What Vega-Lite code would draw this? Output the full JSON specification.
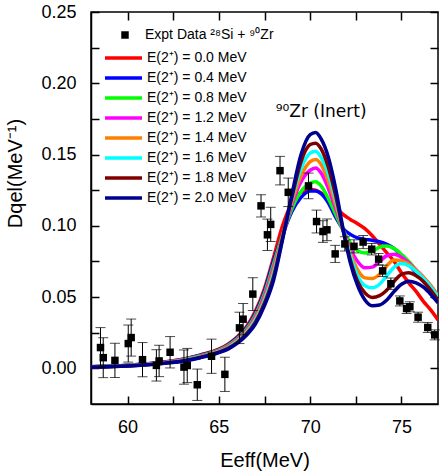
{
"$schema": "https://vega.github.io/schema/vega-lite/v6.json",
"width": 347, "height": 392,
"autosize": {"type": "none"},
"padding": {"left": 91, "top": 12, "right": 2, "bottom": 71},
"background": "white",
"config": {
  "font": "Liberation Sans",
  "view": {"stroke": "black", "strokeWidth": 1.5},
  "axis": {"grid": false, "domainColor": "black", "domainWidth": 1.5, "tickColor": "black", "tickWidth": 1.5,
           "labelColor": "black", "titleColor": "black", "labelFontSize": 18, "titleFontSize": 20, "titleFontWeight": "normal", "labelFlush": false}
},
"resolve": {"axis": {"x": "independent", "y": "independent"}},
"datasets": {
"expt": [
{"x":58.52,"y":0.0146,"err":0.014},{"x":58.67,"y":0.0075,"err":0.014},{"x":59.31,"y":0.0056,"err":0.012},{"x":60.04,"y":0.0174,"err":0.013},
{"x":60.2,"y":0.0216,"err":0.013},{"x":60.82,"y":0.0061,"err":0.012},{"x":61.58,"y":0.0021,"err":0.011},{"x":61.73,"y":0.0052,"err":0.011},
{"x":62.33,"y":0.0113,"err":0.011},{"x":63.09,"y":0.0009,"err":0.012},{"x":63.27,"y":0.002,"err":0.012},{"x":63.82,"y":-0.0115,"err":0.011},
{"x":64.6,"y":0.0085,"err":0.012},{"x":65.33,"y":-0.0042,"err":0.012},{"x":66.13,"y":0.0284,"err":0.011},{"x":66.33,"y":0.0345,"err":0.011},
{"x":66.86,"y":0.0521,"err":0.0115},{"x":67.31,"y":0.114,"err":0.0078},{"x":67.66,"y":0.0937,"err":0.011},{"x":67.84,"y":0.101,"err":0.012},
{"x":68.35,"y":0.1387,"err":0.01},{"x":68.8,"y":0.1235,"err":0.01},{"x":69.91,"y":0.128,"err":0.009},{"x":70.35,"y":0.103,"err":0.008},
{"x":70.7,"y":0.096,"err":0.0076},{"x":70.92,"y":0.0972,"err":0.0076},{"x":71.37,"y":0.0803,"err":0.006},{"x":71.9,"y":0.0873,"err":0.005},
{"x":72.4,"y":0.0856,"err":0.0046},{"x":72.9,"y":0.0886,"err":0.0046},{"x":73.37,"y":0.0836,"err":0.004},{"x":73.75,"y":0.0766,"err":0.004},
{"x":73.97,"y":0.0684,"err":0.004},{"x":74.42,"y":0.0594,"err":0.004},{"x":74.91,"y":0.0473,"err":0.0035},{"x":75.28,"y":0.042,"err":0.0035},
{"x":75.46,"y":0.0432,"err":0.0035},{"x":75.91,"y":0.0359,"err":0.0035},{"x":76.44,"y":0.0287,"err":0.0035},{"x":76.82,"y":0.0235,"err":0.0035}
],
"note": [{"x":70.6,"y":0.1765,"t":"⁹⁰Zr (Inert)"}],
"curves": [
{"s":"E(2⁺) = 0.0 MeV","x":58,"y":0.0012},{"s":"E(2⁺) = 0.0 MeV","x":60,"y":0.0022},{"s":"E(2⁺) = 0.0 MeV","x":62,"y":0.0045},{"s":"E(2⁺) = 0.0 MeV","x":63,"y":0.0065},{"s":"E(2⁺) = 0.0 MeV","x":64,"y":0.0095},{"s":"E(2⁺) = 0.0 MeV","x":65,"y":0.0135},{"s":"E(2⁺) = 0.0 MeV","x":65.5,"y":0.017},{"s":"E(2⁺) = 0.0 MeV","x":66,"y":0.022},{"s":"E(2⁺) = 0.0 MeV","x":66.5,"y":0.029},{"s":"E(2⁺) = 0.0 MeV","x":67,"y":0.04},{"s":"E(2⁺) = 0.0 MeV","x":67.5,"y":0.056},{"s":"E(2⁺) = 0.0 MeV","x":68,"y":0.078},{"s":"E(2⁺) = 0.0 MeV","x":68.5,"y":0.1005},{"s":"E(2⁺) = 0.0 MeV","x":69,"y":0.116},{"s":"E(2⁺) = 0.0 MeV","x":69.5,"y":0.1235},{"s":"E(2⁺) = 0.0 MeV","x":70,"y":0.1255},{"s":"E(2⁺) = 0.0 MeV","x":70.3,"y":0.125},{"s":"E(2⁺) = 0.0 MeV","x":70.6,"y":0.123},{"s":"E(2⁺) = 0.0 MeV","x":71,"y":0.118},{"s":"E(2⁺) = 0.0 MeV","x":71.4,"y":0.113},{"s":"E(2⁺) = 0.0 MeV","x":71.8,"y":0.108},{"s":"E(2⁺) = 0.0 MeV","x":72.2,"y":0.1045},{"s":"E(2⁺) = 0.0 MeV","x":72.6,"y":0.1015},{"s":"E(2⁺) = 0.0 MeV","x":73,"y":0.098},{"s":"E(2⁺) = 0.0 MeV","x":73.4,"y":0.093},{"s":"E(2⁺) = 0.0 MeV","x":73.8,"y":0.087},{"s":"E(2⁺) = 0.0 MeV","x":74.2,"y":0.081},{"s":"E(2⁺) = 0.0 MeV","x":74.6,"y":0.075},{"s":"E(2⁺) = 0.0 MeV","x":75,"y":0.067},{"s":"E(2⁺) = 0.0 MeV","x":75.4,"y":0.06},{"s":"E(2⁺) = 0.0 MeV","x":75.8,"y":0.054},{"s":"E(2⁺) = 0.0 MeV","x":76.2,"y":0.047},{"s":"E(2⁺) = 0.0 MeV","x":76.6,"y":0.041},{"s":"E(2⁺) = 0.0 MeV","x":77,"y":0.034},
{"s":"E(2⁺) = 0.4 MeV","x":58,"y":0.0011},{"s":"E(2⁺) = 0.4 MeV","x":60,"y":0.0021},{"s":"E(2⁺) = 0.4 MeV","x":62,"y":0.0044},{"s":"E(2⁺) = 0.4 MeV","x":63,"y":0.0063},{"s":"E(2⁺) = 0.4 MeV","x":64,"y":0.0092},{"s":"E(2⁺) = 0.4 MeV","x":65,"y":0.0131},{"s":"E(2⁺) = 0.4 MeV","x":65.5,"y":0.0165},{"s":"E(2⁺) = 0.4 MeV","x":66,"y":0.0214},{"s":"E(2⁺) = 0.4 MeV","x":66.5,"y":0.0281},{"s":"E(2⁺) = 0.4 MeV","x":67,"y":0.0387},{"s":"E(2⁺) = 0.4 MeV","x":67.5,"y":0.0543},{"s":"E(2⁺) = 0.4 MeV","x":68,"y":0.0757},{"s":"E(2⁺) = 0.4 MeV","x":68.5,"y":0.094},{"s":"E(2⁺) = 0.4 MeV","x":69,"y":0.11},{"s":"E(2⁺) = 0.4 MeV","x":69.5,"y":0.12},{"s":"E(2⁺) = 0.4 MeV","x":70,"y":0.1245},{"s":"E(2⁺) = 0.4 MeV","x":70.3,"y":0.1245},{"s":"E(2⁺) = 0.4 MeV","x":70.6,"y":0.1225},{"s":"E(2⁺) = 0.4 MeV","x":71,"y":0.116},{"s":"E(2⁺) = 0.4 MeV","x":71.4,"y":0.106},{"s":"E(2⁺) = 0.4 MeV","x":71.8,"y":0.098},{"s":"E(2⁺) = 0.4 MeV","x":72.2,"y":0.094},{"s":"E(2⁺) = 0.4 MeV","x":72.6,"y":0.0915},{"s":"E(2⁺) = 0.4 MeV","x":73,"y":0.0905},{"s":"E(2⁺) = 0.4 MeV","x":73.4,"y":0.0898},{"s":"E(2⁺) = 0.4 MeV","x":73.8,"y":0.0888},{"s":"E(2⁺) = 0.4 MeV","x":74.2,"y":0.087},{"s":"E(2⁺) = 0.4 MeV","x":74.6,"y":0.084},{"s":"E(2⁺) = 0.4 MeV","x":75,"y":0.079},{"s":"E(2⁺) = 0.4 MeV","x":75.4,"y":0.073},{"s":"E(2⁺) = 0.4 MeV","x":75.8,"y":0.067},{"s":"E(2⁺) = 0.4 MeV","x":76.2,"y":0.061},{"s":"E(2⁺) = 0.4 MeV","x":76.6,"y":0.055},{"s":"E(2⁺) = 0.4 MeV","x":77,"y":0.049},
{"s":"E(2⁺) = 0.8 MeV","x":58,"y":0.0011},{"s":"E(2⁺) = 0.8 MeV","x":60,"y":0.002},{"s":"E(2⁺) = 0.8 MeV","x":62,"y":0.0042},{"s":"E(2⁺) = 0.8 MeV","x":63,"y":0.0061},{"s":"E(2⁺) = 0.8 MeV","x":64,"y":0.0089},{"s":"E(2⁺) = 0.8 MeV","x":65,"y":0.0128},{"s":"E(2⁺) = 0.8 MeV","x":65.5,"y":0.016},{"s":"E(2⁺) = 0.8 MeV","x":66,"y":0.0207},{"s":"E(2⁺) = 0.8 MeV","x":66.5,"y":0.0273},{"s":"E(2⁺) = 0.8 MeV","x":67,"y":0.0374},{"s":"E(2⁺) = 0.8 MeV","x":67.5,"y":0.0526},{"s":"E(2⁺) = 0.8 MeV","x":68,"y":0.0734},{"s":"E(2⁺) = 0.8 MeV","x":68.5,"y":0.094},{"s":"E(2⁺) = 0.8 MeV","x":69,"y":0.112},{"s":"E(2⁺) = 0.8 MeV","x":69.5,"y":0.124},{"s":"E(2⁺) = 0.8 MeV","x":70,"y":0.13},{"s":"E(2⁺) = 0.8 MeV","x":70.3,"y":0.131},{"s":"E(2⁺) = 0.8 MeV","x":70.6,"y":0.128},{"s":"E(2⁺) = 0.8 MeV","x":71,"y":0.119},{"s":"E(2⁺) = 0.8 MeV","x":71.4,"y":0.108},{"s":"E(2⁺) = 0.8 MeV","x":71.8,"y":0.097},{"s":"E(2⁺) = 0.8 MeV","x":72.2,"y":0.088},{"s":"E(2⁺) = 0.8 MeV","x":72.6,"y":0.0825},{"s":"E(2⁺) = 0.8 MeV","x":73,"y":0.081},{"s":"E(2⁺) = 0.8 MeV","x":73.4,"y":0.082},{"s":"E(2⁺) = 0.8 MeV","x":73.8,"y":0.085},{"s":"E(2⁺) = 0.8 MeV","x":74.2,"y":0.0858},{"s":"E(2⁺) = 0.8 MeV","x":74.6,"y":0.084},{"s":"E(2⁺) = 0.8 MeV","x":75,"y":0.08},{"s":"E(2⁺) = 0.8 MeV","x":75.4,"y":0.075},{"s":"E(2⁺) = 0.8 MeV","x":75.8,"y":0.069},{"s":"E(2⁺) = 0.8 MeV","x":76.2,"y":0.063},{"s":"E(2⁺) = 0.8 MeV","x":76.6,"y":0.057},{"s":"E(2⁺) = 0.8 MeV","x":77,"y":0.05},
{"s":"E(2⁺) = 1.2 MeV","x":58,"y":0.001},{"s":"E(2⁺) = 1.2 MeV","x":60,"y":0.0019},{"s":"E(2⁺) = 1.2 MeV","x":62,"y":0.0041},{"s":"E(2⁺) = 1.2 MeV","x":63,"y":0.0059},{"s":"E(2⁺) = 1.2 MeV","x":64,"y":0.0086},{"s":"E(2⁺) = 1.2 MeV","x":65,"y":0.0124},{"s":"E(2⁺) = 1.2 MeV","x":65.5,"y":0.0155},{"s":"E(2⁺) = 1.2 MeV","x":66,"y":0.0201},{"s":"E(2⁺) = 1.2 MeV","x":66.5,"y":0.0264},{"s":"E(2⁺) = 1.2 MeV","x":67,"y":0.0361},{"s":"E(2⁺) = 1.2 MeV","x":67.5,"y":0.0509},{"s":"E(2⁺) = 1.2 MeV","x":68,"y":0.0711},{"s":"E(2⁺) = 1.2 MeV","x":68.5,"y":0.093},{"s":"E(2⁺) = 1.2 MeV","x":69,"y":0.115},{"s":"E(2⁺) = 1.2 MeV","x":69.5,"y":0.131},{"s":"E(2⁺) = 1.2 MeV","x":70,"y":0.139},{"s":"E(2⁺) = 1.2 MeV","x":70.3,"y":0.1406},{"s":"E(2⁺) = 1.2 MeV","x":70.6,"y":0.137},{"s":"E(2⁺) = 1.2 MeV","x":71,"y":0.126},{"s":"E(2⁺) = 1.2 MeV","x":71.4,"y":0.112},{"s":"E(2⁺) = 1.2 MeV","x":71.8,"y":0.097},{"s":"E(2⁺) = 1.2 MeV","x":72.2,"y":0.084},{"s":"E(2⁺) = 1.2 MeV","x":72.6,"y":0.075},{"s":"E(2⁺) = 1.2 MeV","x":73,"y":0.0705},{"s":"E(2⁺) = 1.2 MeV","x":73.4,"y":0.071},{"s":"E(2⁺) = 1.2 MeV","x":73.8,"y":0.075},{"s":"E(2⁺) = 1.2 MeV","x":74.2,"y":0.079},{"s":"E(2⁺) = 1.2 MeV","x":74.6,"y":0.08},{"s":"E(2⁺) = 1.2 MeV","x":75,"y":0.078},{"s":"E(2⁺) = 1.2 MeV","x":75.4,"y":0.074},{"s":"E(2⁺) = 1.2 MeV","x":75.8,"y":0.069},{"s":"E(2⁺) = 1.2 MeV","x":76.2,"y":0.064},{"s":"E(2⁺) = 1.2 MeV","x":76.6,"y":0.058},{"s":"E(2⁺) = 1.2 MeV","x":77,"y":0.051},
{"s":"E(2⁺) = 1.4 MeV","x":58,"y":0.001},{"s":"E(2⁺) = 1.4 MeV","x":60,"y":0.0019},{"s":"E(2⁺) = 1.4 MeV","x":62,"y":0.0039},{"s":"E(2⁺) = 1.4 MeV","x":63,"y":0.0056},{"s":"E(2⁺) = 1.4 MeV","x":64,"y":0.0084},{"s":"E(2⁺) = 1.4 MeV","x":65,"y":0.0121},{"s":"E(2⁺) = 1.4 MeV","x":65.5,"y":0.015},{"s":"E(2⁺) = 1.4 MeV","x":66,"y":0.0194},{"s":"E(2⁺) = 1.4 MeV","x":66.5,"y":0.0256},{"s":"E(2⁺) = 1.4 MeV","x":67,"y":0.0349},{"s":"E(2⁺) = 1.4 MeV","x":67.5,"y":0.0491},{"s":"E(2⁺) = 1.4 MeV","x":68,"y":0.0689},{"s":"E(2⁺) = 1.4 MeV","x":68.5,"y":0.093},{"s":"E(2⁺) = 1.4 MeV","x":69,"y":0.117},{"s":"E(2⁺) = 1.4 MeV","x":69.5,"y":0.135},{"s":"E(2⁺) = 1.4 MeV","x":70,"y":0.145},{"s":"E(2⁺) = 1.4 MeV","x":70.3,"y":0.1465},{"s":"E(2⁺) = 1.4 MeV","x":70.6,"y":0.143},{"s":"E(2⁺) = 1.4 MeV","x":71,"y":0.131},{"s":"E(2⁺) = 1.4 MeV","x":71.4,"y":0.115},{"s":"E(2⁺) = 1.4 MeV","x":71.8,"y":0.097},{"s":"E(2⁺) = 1.4 MeV","x":72.2,"y":0.081},{"s":"E(2⁺) = 1.4 MeV","x":72.6,"y":0.069},{"s":"E(2⁺) = 1.4 MeV","x":73,"y":0.0635},{"s":"E(2⁺) = 1.4 MeV","x":73.4,"y":0.063},{"s":"E(2⁺) = 1.4 MeV","x":73.8,"y":0.066},{"s":"E(2⁺) = 1.4 MeV","x":74.2,"y":0.072},{"s":"E(2⁺) = 1.4 MeV","x":74.6,"y":0.076},{"s":"E(2⁺) = 1.4 MeV","x":75,"y":0.0755},{"s":"E(2⁺) = 1.4 MeV","x":75.4,"y":0.073},{"s":"E(2⁺) = 1.4 MeV","x":75.8,"y":0.069},{"s":"E(2⁺) = 1.4 MeV","x":76.2,"y":0.064},{"s":"E(2⁺) = 1.4 MeV","x":76.6,"y":0.058},{"s":"E(2⁺) = 1.4 MeV","x":77,"y":0.051},
{"s":"E(2⁺) = 1.6 MeV","x":58,"y":0.0009},{"s":"E(2⁺) = 1.6 MeV","x":60,"y":0.0018},{"s":"E(2⁺) = 1.6 MeV","x":62,"y":0.0038},{"s":"E(2⁺) = 1.6 MeV","x":63,"y":0.0054},{"s":"E(2⁺) = 1.6 MeV","x":64,"y":0.0081},{"s":"E(2⁺) = 1.6 MeV","x":65,"y":0.0117},{"s":"E(2⁺) = 1.6 MeV","x":65.5,"y":0.0145},{"s":"E(2⁺) = 1.6 MeV","x":66,"y":0.0188},{"s":"E(2⁺) = 1.6 MeV","x":66.5,"y":0.0247},{"s":"E(2⁺) = 1.6 MeV","x":67,"y":0.0336},{"s":"E(2⁺) = 1.6 MeV","x":67.5,"y":0.0474},{"s":"E(2⁺) = 1.6 MeV","x":68,"y":0.0666},{"s":"E(2⁺) = 1.6 MeV","x":68.5,"y":0.092},{"s":"E(2⁺) = 1.6 MeV","x":69,"y":0.119},{"s":"E(2⁺) = 1.6 MeV","x":69.5,"y":0.14},{"s":"E(2⁺) = 1.6 MeV","x":70,"y":0.151},{"s":"E(2⁺) = 1.6 MeV","x":70.3,"y":0.1523},{"s":"E(2⁺) = 1.6 MeV","x":70.6,"y":0.148},{"s":"E(2⁺) = 1.6 MeV","x":71,"y":0.136},{"s":"E(2⁺) = 1.6 MeV","x":71.4,"y":0.118},{"s":"E(2⁺) = 1.6 MeV","x":71.8,"y":0.097},{"s":"E(2⁺) = 1.6 MeV","x":72.2,"y":0.079},{"s":"E(2⁺) = 1.6 MeV","x":72.6,"y":0.065},{"s":"E(2⁺) = 1.6 MeV","x":73,"y":0.058},{"s":"E(2⁺) = 1.6 MeV","x":73.4,"y":0.0565},{"s":"E(2⁺) = 1.6 MeV","x":73.8,"y":0.059},{"s":"E(2⁺) = 1.6 MeV","x":74.2,"y":0.065},{"s":"E(2⁺) = 1.6 MeV","x":74.6,"y":0.071},{"s":"E(2⁺) = 1.6 MeV","x":75,"y":0.0735},{"s":"E(2⁺) = 1.6 MeV","x":75.4,"y":0.072},{"s":"E(2⁺) = 1.6 MeV","x":75.8,"y":0.068},{"s":"E(2⁺) = 1.6 MeV","x":76.2,"y":0.063},{"s":"E(2⁺) = 1.6 MeV","x":76.6,"y":0.057},{"s":"E(2⁺) = 1.6 MeV","x":77,"y":0.05},
{"s":"E(2⁺) = 1.8 MeV","x":58,"y":0.0009},{"s":"E(2⁺) = 1.8 MeV","x":60,"y":0.0017},{"s":"E(2⁺) = 1.8 MeV","x":62,"y":0.0036},{"s":"E(2⁺) = 1.8 MeV","x":63,"y":0.0052},{"s":"E(2⁺) = 1.8 MeV","x":64,"y":0.0078},{"s":"E(2⁺) = 1.8 MeV","x":65,"y":0.0114},{"s":"E(2⁺) = 1.8 MeV","x":65.5,"y":0.014},{"s":"E(2⁺) = 1.8 MeV","x":66,"y":0.0181},{"s":"E(2⁺) = 1.8 MeV","x":66.5,"y":0.0239},{"s":"E(2⁺) = 1.8 MeV","x":67,"y":0.0323},{"s":"E(2⁺) = 1.8 MeV","x":67.5,"y":0.0457},{"s":"E(2⁺) = 1.8 MeV","x":68,"y":0.0643},{"s":"E(2⁺) = 1.8 MeV","x":68.5,"y":0.092},{"s":"E(2⁺) = 1.8 MeV","x":69,"y":0.12},{"s":"E(2⁺) = 1.8 MeV","x":69.5,"y":0.145},{"s":"E(2⁺) = 1.8 MeV","x":70,"y":0.157},{"s":"E(2⁺) = 1.8 MeV","x":70.3,"y":0.158},{"s":"E(2⁺) = 1.8 MeV","x":70.6,"y":0.154},{"s":"E(2⁺) = 1.8 MeV","x":71,"y":0.141},{"s":"E(2⁺) = 1.8 MeV","x":71.4,"y":0.121},{"s":"E(2⁺) = 1.8 MeV","x":71.8,"y":0.097},{"s":"E(2⁺) = 1.8 MeV","x":72.2,"y":0.076},{"s":"E(2⁺) = 1.8 MeV","x":72.6,"y":0.061},{"s":"E(2⁺) = 1.8 MeV","x":73,"y":0.053},{"s":"E(2⁺) = 1.8 MeV","x":73.4,"y":0.0498},{"s":"E(2⁺) = 1.8 MeV","x":73.8,"y":0.051},{"s":"E(2⁺) = 1.8 MeV","x":74.2,"y":0.055},{"s":"E(2⁺) = 1.8 MeV","x":74.6,"y":0.061},{"s":"E(2⁺) = 1.8 MeV","x":75,"y":0.066},{"s":"E(2⁺) = 1.8 MeV","x":75.4,"y":0.067},{"s":"E(2⁺) = 1.8 MeV","x":75.8,"y":0.065},{"s":"E(2⁺) = 1.8 MeV","x":76.2,"y":0.061},{"s":"E(2⁺) = 1.8 MeV","x":76.6,"y":0.055},{"s":"E(2⁺) = 1.8 MeV","x":77,"y":0.048},
{"s":"E(2⁺) = 2.0 MeV","x":58,"y":0.0008},{"s":"E(2⁺) = 2.0 MeV","x":60,"y":0.0016},{"s":"E(2⁺) = 2.0 MeV","x":62,"y":0.0035},{"s":"E(2⁺) = 2.0 MeV","x":63,"y":0.005},{"s":"E(2⁺) = 2.0 MeV","x":64,"y":0.0075},{"s":"E(2⁺) = 2.0 MeV","x":65,"y":0.011},{"s":"E(2⁺) = 2.0 MeV","x":65.5,"y":0.0135},{"s":"E(2⁺) = 2.0 MeV","x":66,"y":0.0175},{"s":"E(2⁺) = 2.0 MeV","x":66.5,"y":0.023},{"s":"E(2⁺) = 2.0 MeV","x":67,"y":0.031},{"s":"E(2⁺) = 2.0 MeV","x":67.5,"y":0.044},{"s":"E(2⁺) = 2.0 MeV","x":68,"y":0.062},{"s":"E(2⁺) = 2.0 MeV","x":68.5,"y":0.091},{"s":"E(2⁺) = 2.0 MeV","x":69,"y":0.122},{"s":"E(2⁺) = 2.0 MeV","x":69.5,"y":0.15},{"s":"E(2⁺) = 2.0 MeV","x":70,"y":0.164},{"s":"E(2⁺) = 2.0 MeV","x":70.3,"y":0.1655},{"s":"E(2⁺) = 2.0 MeV","x":70.6,"y":0.161},{"s":"E(2⁺) = 2.0 MeV","x":71,"y":0.148},{"s":"E(2⁺) = 2.0 MeV","x":71.4,"y":0.126},{"s":"E(2⁺) = 2.0 MeV","x":71.8,"y":0.098},{"s":"E(2⁺) = 2.0 MeV","x":72.2,"y":0.074},{"s":"E(2⁺) = 2.0 MeV","x":72.6,"y":0.058},{"s":"E(2⁺) = 2.0 MeV","x":73,"y":0.048},{"s":"E(2⁺) = 2.0 MeV","x":73.4,"y":0.044},{"s":"E(2⁺) = 2.0 MeV","x":73.8,"y":0.0445},{"s":"E(2⁺) = 2.0 MeV","x":74.2,"y":0.048},{"s":"E(2⁺) = 2.0 MeV","x":74.6,"y":0.054},{"s":"E(2⁺) = 2.0 MeV","x":75,"y":0.059},{"s":"E(2⁺) = 2.0 MeV","x":75.4,"y":0.0612},{"s":"E(2⁺) = 2.0 MeV","x":75.8,"y":0.06},{"s":"E(2⁺) = 2.0 MeV","x":76.2,"y":0.057},{"s":"E(2⁺) = 2.0 MeV","x":76.6,"y":0.052},{"s":"E(2⁺) = 2.0 MeV","x":77,"y":0.046}
]
},
"encoding": {
  "x": {"field": "x", "type": "quantitative", "scale": {"domain": [58, 77], "nice": false, "zero": false}, "axis": null},
  "y": {"field": "y", "type": "quantitative", "scale": {"domain": [-0.025, 0.25], "nice": false, "zero": false}, "axis": null}
},
"layer": [
{
  "data": {"name": "curves"},
  "mark": {"type": "line", "interpolate": "monotone", "strokeWidth": 3.5, "clip": true},
  "encoding": {
    "x": {"field": "x", "type": "quantitative", "scale": {"domain": [58, 77], "nice": false, "zero": false},
          "axis": {"orient": "bottom", "title": "Eeff(MeV)", "values": [60, 62.5, 65, 67.5, 70, 72.5, 75], "tickSize": -8,
                   "labelExpr": "datum.value % 5 === 0 ? datum.label : ''", "labelPadding": 22, "titlePadding": 14}},
    "y": {"field": "y", "type": "quantitative", "scale": {"domain": [-0.025, 0.25], "nice": false, "zero": false},
          "axis": {"orient": "left", "title": "Dqel(MeV⁻¹)", "values": [0, 0.025, 0.05, 0.075, 0.1, 0.125, 0.15, 0.175, 0.2, 0.225, 0.25],
                   "format": ".2f", "tickSize": -8,
                   "labelExpr": "round(datum.value*1000) % 50 === 0 ? datum.label : ''", "labelPadding": 23,
                   "titleX": -76, "titleY": 161, "titleAlign": "center", "titleBaseline": "middle"}},
    "color": {"field": "s", "type": "nominal",
      "scale": {"domain": ["E(2⁺) = 0.0 MeV", "E(2⁺) = 0.4 MeV", "E(2⁺) = 0.8 MeV", "E(2⁺) = 1.2 MeV", "E(2⁺) = 1.4 MeV", "E(2⁺) = 1.6 MeV", "E(2⁺) = 1.8 MeV", "E(2⁺) = 2.0 MeV"],
                "range": ["#ff0000", "#0000ff", "#00ff00", "#ff00ff", "#ff8000", "#00ffff", "#800000", "#000090"]},
      "legend": {"orient": "none", "legendX": 20.5, "legendY": 34, "title": null, "padding": 0,
                 "labelFontSize": 14, "labelColor": "black", "symbolType": "M-1.85,0H1.85", "symbolSize": 400, "symbolStrokeWidth": 3.5,
                 "rowPadding": 1, "labelOffset": 11.5}
    }
  }
},
{
  "data": {"name": "expt"},
  "mark": {"type": "errorbar", "ticks": true, "size": 10, "thickness": 1, "color": "black"},
  "encoding": {"yError": {"field": "err"}}
},
{
  "data": {"name": "expt"},
  "mark": {"type": "point", "shape": "square", "filled": true, "size": 56, "color": "black", "opacity": 1},
  "encoding": {
    "shape": {"datum": "Expt Data ²⁸Si + ⁹⁰Zr", "scale": {"range": ["square"]},
      "legend": {"orient": "none", "legendX": 27, "legendY": 16, "title": null, "padding": 0,
                 "labelFontSize": 14, "labelColor": "black", "symbolSize": 56, "symbolFillColor": "black", "symbolStrokeColor": "black",
                 "labelOffset": 13}}
  }
},
{
  "data": {"name": "note"},
  "mark": {"type": "text", "fontSize": 17, "font": "DejaVu Sans", "align": "center", "baseline": "alphabetic", "color": "black"},
  "encoding": {
    "text": {"field": "t"},
    "x": {"field": "x", "type": "quantitative", "scale": {"domain": [58, 77], "nice": false, "zero": false},
          "axis": {"orient": "top", "title": null, "labels": false, "domain": false, "values": [60, 62.5, 65, 67.5, 70, 72.5, 75], "tickSize": -8}},
    "y": {"field": "y", "type": "quantitative", "scale": {"domain": [-0.025, 0.25], "nice": false, "zero": false},
          "axis": {"orient": "right", "title": null, "labels": false, "domain": false, "values": [0, 0.025, 0.05, 0.075, 0.1, 0.125, 0.15, 0.175, 0.2, 0.225, 0.25], "tickSize": -8}}
  }
}
]
}
